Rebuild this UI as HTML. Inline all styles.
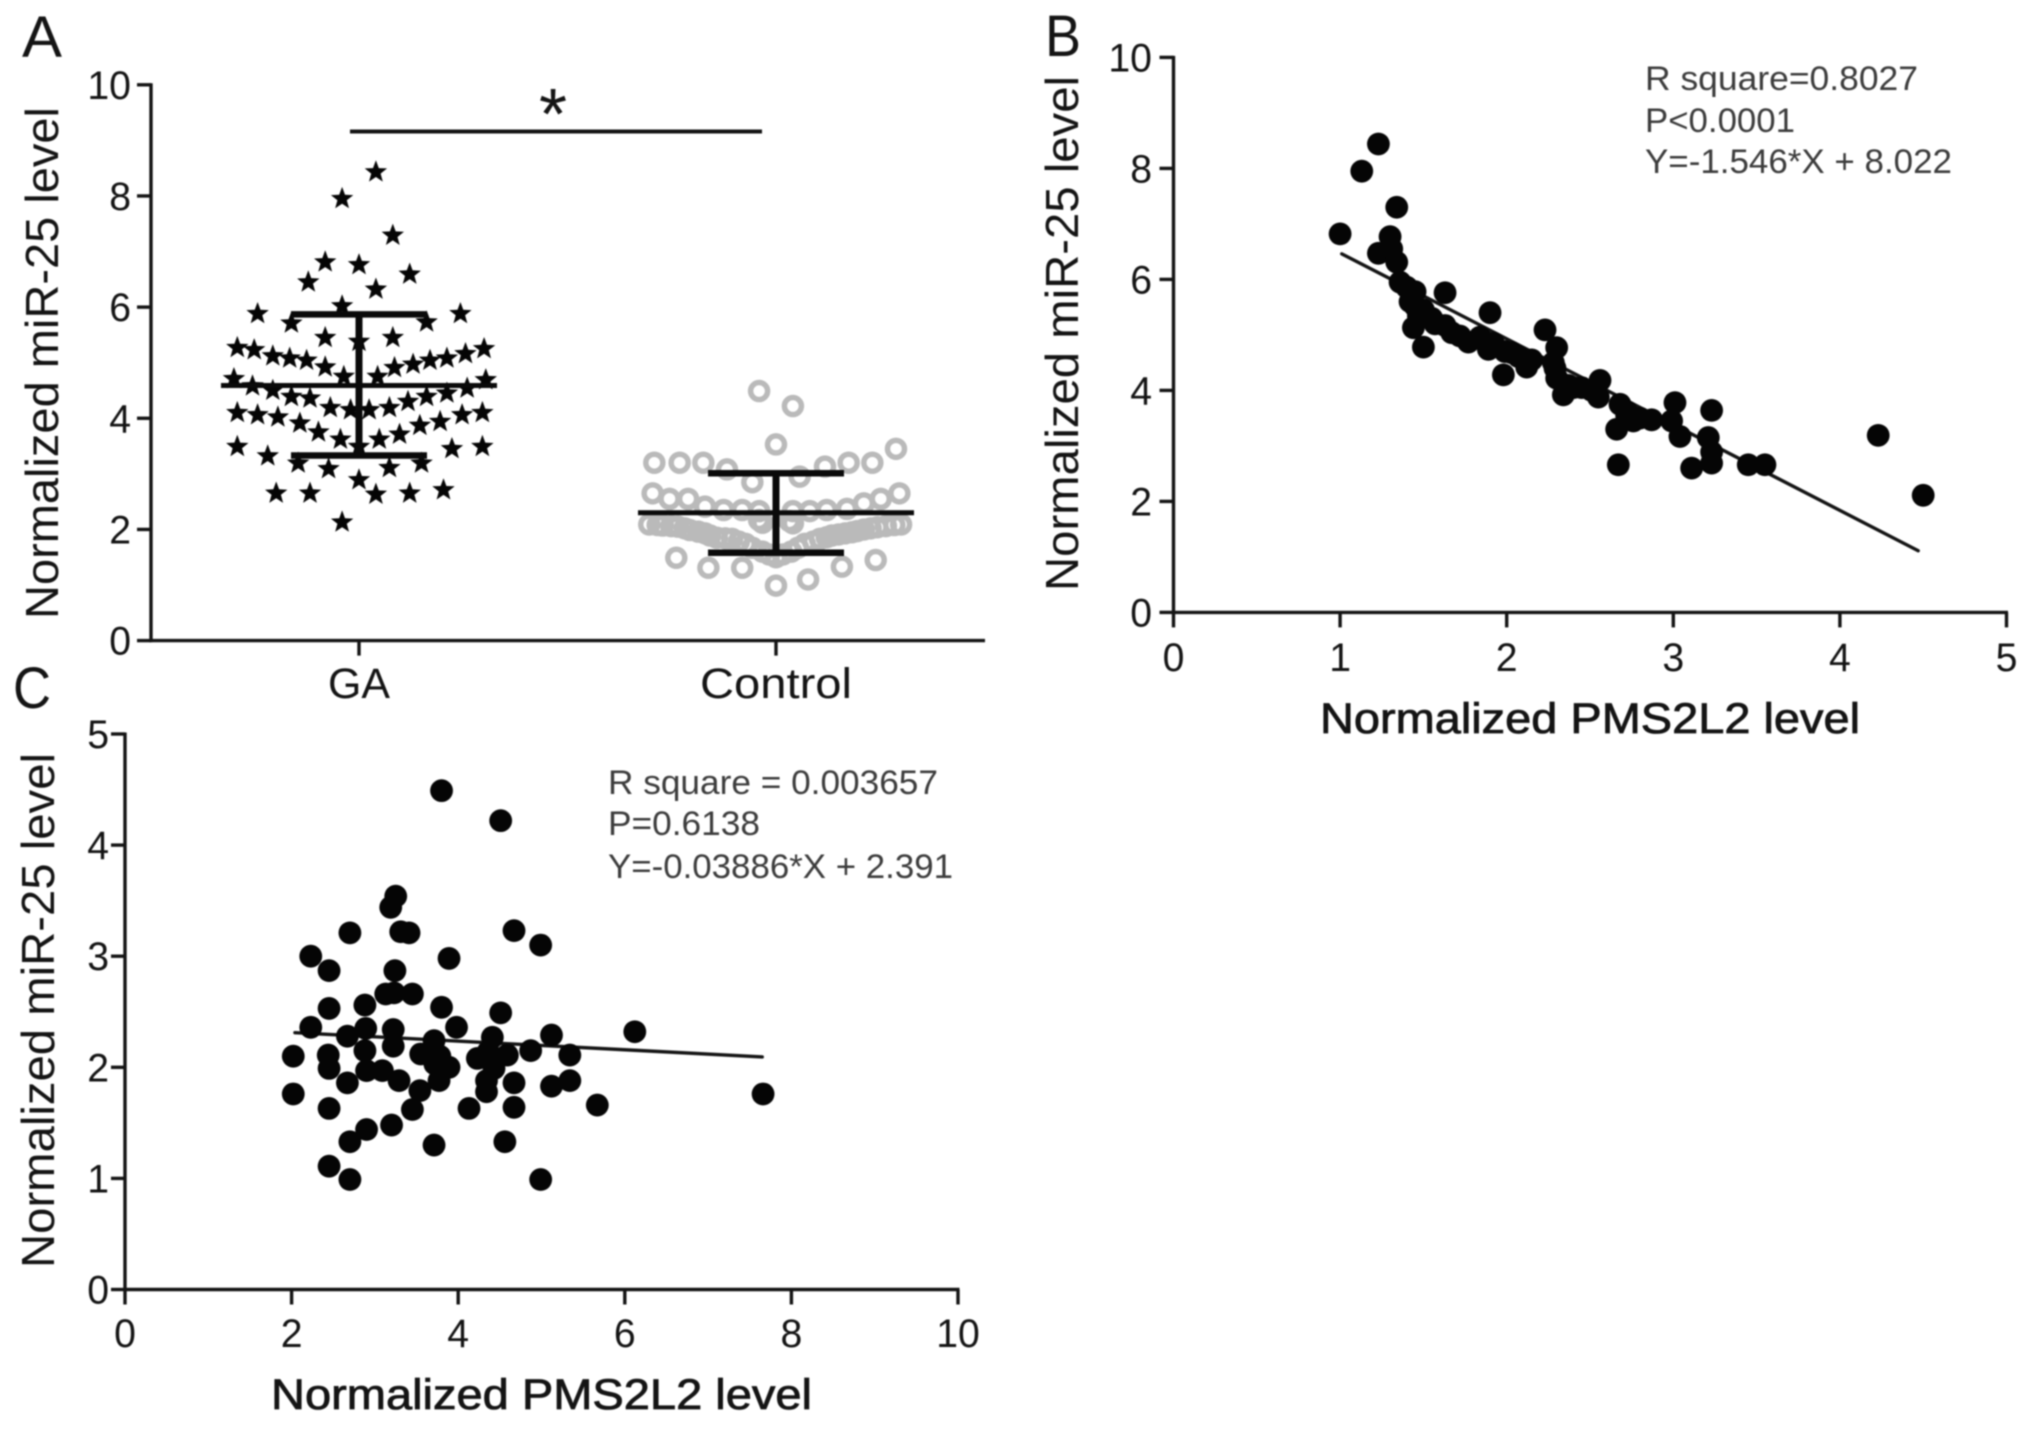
<!DOCTYPE html>
<html lang="en">
<head>
<meta charset="utf-8">
<title>miR-25 and PMS2L2 expression panels</title>
<style>
  html, body { margin: 0; padding: 0; background: #fff; }
  svg { display: block; filter: blur(0.9px); }
  text { font-family: "Liberation Sans", sans-serif; fill: #141414; }
  .tick { font-size: 40px; }
  .title { font-size: 46px; }
  .xtitle { font-size: 43px; stroke: #141414; stroke-width: 0.8px; }
  .letter { font-size: 58px; }
  .stat { font-size: 34px; fill: #3c3c3c; }
</style>
</head>
<body>
<svg id="figure" xmlns="http://www.w3.org/2000/svg" width="2031" height="1429" viewBox="0 0 2031 1429">
  <rect width="2031" height="1429" fill="#fff"/>

  <text class="letter" x="22" y="57" textLength="40" lengthAdjust="spacingAndGlyphs">A</text>
  <text class="letter" x="1045" y="56" textLength="36" lengthAdjust="spacingAndGlyphs">B</text>
  <text class="letter" x="13" y="708" textLength="38" lengthAdjust="spacingAndGlyphs">C</text>

  <g id="panel-a">
    <text class="title" transform="translate(58 619) rotate(-90)" textLength="512" lengthAdjust="spacingAndGlyphs">Normalized miR-25 level</text>
    <text x="553" y="139" text-anchor="middle" font-size="72">*</text>
  </g>
  <g id="panel-b">
    <text class="title" transform="translate(1078 591) rotate(-90)" textLength="515" lengthAdjust="spacingAndGlyphs">Normalized miR-25 level</text>
    <text class="xtitle" x="1320" y="733" textLength="540" lengthAdjust="spacingAndGlyphs">Normalized PMS2L2 level</text>
    <text class="stat" x="1645" y="90" textLength="273" lengthAdjust="spacingAndGlyphs">R square=0.8027</text>
    <text class="stat" x="1645" y="132" textLength="150" lengthAdjust="spacingAndGlyphs">P&lt;0.0001</text>
    <text class="stat" x="1645" y="173" textLength="307" lengthAdjust="spacingAndGlyphs">Y=-1.546*X + 8.022</text>
  </g>
  <g id="panel-c">
    <text class="title" transform="translate(54 1268) rotate(-90)" textLength="515" lengthAdjust="spacingAndGlyphs">Normalized miR-25 level</text>
    <text class="xtitle" x="271" y="1409" textLength="541" lengthAdjust="spacingAndGlyphs">Normalized PMS2L2 level</text>
    <text class="stat" x="608" y="794" textLength="330" lengthAdjust="spacingAndGlyphs">R square = 0.003657</text>
    <text class="stat" x="608" y="835" textLength="152" lengthAdjust="spacingAndGlyphs">P=0.6138</text>
    <text class="stat" x="608" y="878" textLength="345" lengthAdjust="spacingAndGlyphs">Y=-0.03886*X + 2.391</text>
  </g>
</svg>

<script>
// ---- Panel A data ----
const aCategories = ["GA", "Control"];
const aYTicks = [0, 2, 4, 6, 8, 10];
const gaValues = [8.43,7.95,7.29,6.81,6.76,6.59,6.45,6.32,6.02,5.88,5.88,5.71,5.73,5.45,5.38,5.45,
  5.27,5.23,5.12,5.08,5.04,4.92,4.75,4.75,4.91,4.97,5.04,5.08,5.16,5.25,
  4.71,4.58,4.5,4.39,4.36,4.19,4.15,4.15,4.19,4.3,4.39,4.45,4.54,4.69,
  4.1,4.06,4.02,3.91,3.75,3.62,3.49,3.62,3.71,3.87,3.94,4.06,4.1,
  3.49,3.32,3.45,3.49,3.19,3.19,3.09,3.11,2.89,2.65,2.65,2.63,2.65,2.71,2.13];
const gaSlots = [1,-1,2,-2,0,3,-3,1,-1,-6,6,-4,4,-2,0,2,
  -7.2,-6.2,-5.1,-4.1,-3.1,-2,-0.9,1.1,2.1,3.2,4.2,5.2,6.3,7.4,
  -7.4,-6.3,-5.1,-4,-2.9,-1.7,-0.5,0.6,1.8,2.9,4,5.2,6.4,7.5,
  -7.2,-6,-4.8,-3.5,-2.4,-1.1,0,1.2,2.4,3.6,4.8,6.1,7.3,
  -7.2,-5.4,5.5,7.3,-3.6,3.7,-1.8,1.8,0,-4.9,-2.9,1,3,5,-1];
const controlValues = [4.49,4.22,3.53,3.2,3.2,3.2,3.08,2.85,2.95,3.13,3.2,3.2,3.45,
  2.65,2.55,2.55,2.41,2.35,2.35,2.33,2.17,2.11,2.33,2.33,2.35,2.37,2.47,2.55,2.65,
  2.09,2.07,2.05,1.99,1.93,1.85,1.83,1.74,1.6,1.5,1.6,1.74,1.83,1.89,1.93,1.97,2.02,2.06,2.09,
  2.08,2.06,2.02,1.96,1.89,1.84,1.78,1.67,1.55,1.55,1.67,1.78,1.86,1.91,1.95,2.0,2.04,2.08,
  2.12,2.15,
  1.49,1.31,1.31,0.99,1.1,1.33,1.45];
const controlSlots = [-1,1,0,-7.2,-5.7,-4.3,-2.9,-1.4,1.4,2.9,4.3,5.7,7.1,
  -7.3,-6.3,-5.2,-4.2,-3.1,-2,-1,-1,1,1,2,3,4.2,5.2,6.2,7.3,
  -7.5,-6.7,-5.8,-5.1,-4.2,-3.5,-2.6,-1.8,-0.8,0,0.9,1.7,2.6,3.3,4.1,4.8,5.6,6.5,7.4,
  -7,-6.2,-5.4,-4.6,-3.9,-3,-2.2,-1.4,-0.4,0.4,1.3,2.2,3,3.7,4.5,5.2,6,7,
  -0.8,0.8,
  -5.9,-4,-2,0,1.9,3.9,5.9];
const groupMeans = [4.59, 2.3];
const groupUppers = [5.87, 3.01];
const groupLowers = [3.33, 1.58];
const sigBracketValue = 9.16;

// ---- Panel B data ----
const bXTicks = [0, 1, 2, 3, 4, 5];
const bYTicks = [0, 2, 4, 6, 8, 10];
const bX = [1.0,1.13,1.23,1.34,1.3,1.23,1.31,1.34,1.36,1.4,1.45,1.63,1.45,1.47,1.44,1.5,1.55,1.63,1.67,1.77,1.84,1.9,1.89,1.99,1.98,2.07,2.12,2.23,2.3,2.29,2.3,2.34,2.37,2.45,2.51,2.56,2.55,2.68,2.66,2.67,2.72,2.76,2.87,2.99,3.01,3.04,3.11,3.23,3.21,3.23,3.23,3.45,3.55,4.23,4.5,
  1.42,1.5,1.57,1.72,1.92,2.03,2.15,2.4,2.28,2.72,2.8];
const bY = [6.82,7.95,8.44,7.3,6.77,6.47,6.55,6.31,5.95,5.86,5.78,5.76,5.52,5.34,5.13,4.78,5.3,5.17,5.04,4.87,4.96,5.4,4.74,4.7,4.28,4.61,4.42,5.09,4.77,4.4,4.22,3.92,4.09,4.05,4.0,4.18,3.88,3.75,3.3,2.66,3.62,3.45,3.47,3.45,3.78,3.17,2.6,3.64,3.15,2.89,2.69,2.66,2.66,3.19,2.11,
  5.6,5.45,5.2,4.98,4.85,4.68,4.55,4.05,4.5,3.55,3.5];
const bFitSlope = -1.546;
const bFitIntercept = 8.022;
const bFitRange = [1.01, 4.47];

// ---- Panel C data ----
const cXTicks = [0, 2, 4, 6, 8, 10];
const cYTicks = [0, 1, 2, 3, 4, 5];
const cX = [3.8,4.51,3.25,3.19,2.7,3.31,3.41,4.67,4.99,2.23,2.45,3.89,3.24,3.13,3.23,3.45,2.88,2.45,3.8,4.51,2.23,2.89,3.22,3.98,2.67,3.71,4.41,5.12,6.12,3.22,2.88,2.02,2.44,3.55,3.78,4.36,4.59,4.87,5.34,4.23,2.45,2.9,3.09,3.89,3.72,4.43,3.29,2.67,3.77,4.34,4.67,5.12,5.34,2.02,3.54,4.34,7.66,2.45,3.45,4.13,4.67,5.67,2.9,3.2,2.7,3.71,4.56,2.45,2.7,4.99];
const cY = [4.49,4.22,3.54,3.44,3.21,3.22,3.21,3.23,3.1,3.0,2.87,2.98,2.87,2.66,2.67,2.66,2.56,2.53,2.54,2.49,2.36,2.35,2.34,2.36,2.28,2.24,2.27,2.29,2.32,2.19,2.15,2.1,2.11,2.12,2.1,2.14,2.11,2.15,2.11,2.08,1.99,1.97,1.97,2.0,2.03,1.99,1.88,1.86,1.88,1.88,1.86,1.83,1.88,1.76,1.79,1.78,1.76,1.63,1.62,1.63,1.64,1.66,1.44,1.48,1.33,1.3,1.33,1.11,0.99,0.99];
const cFitSlope = -0.03886;
const cFitIntercept = 2.391;
const cFitRange = [2.04, 7.65];

// ---- Axis functions ----
const yA = v => 640.6 - v * 55.58;
const catX = i => 359 + i * 417;
const slotX = (i, s) => catX(i) + s * 16.9;
const xB = v => 1173.5 + v * 166.6;
const yB = v => 612.4 - v * 55.5;
const xC = v => 125 + v * 83.3;
const yC = v => 1289.5 - v * 111.1;

const NS = "http://www.w3.org/2000/svg";
const panelA = document.getElementById("panel-a");
const panelB = document.getElementById("panel-b");
const panelC = document.getElementById("panel-c");

function make(parent, tag, attrs) {
  const el = document.createElementNS(NS, tag);
  for (const k in attrs) el.setAttribute(k, attrs[k]);
  parent.appendChild(el);
  return el;
}
function line(parent, name, x1, y1, x2, y2, w, color) {
  const el = make(parent, "line", { x1, y1, x2, y2, stroke: color || "#141414", "stroke-width": w });
  
  
  return el;
}
function label(parent, name, x, y, str, anchor) {
  const el = make(parent, "text", { x, y, "text-anchor": anchor, class: "tick", textLength: str.length * 21.8, lengthAdjust: "spacingAndGlyphs" });
  el.textContent = str;
  
  
  return el;
}
function starPoints(cx, cy, R) {
  const r = R * 0.42, pts = [];
  for (let k = 0; k < 10; k++) {
    const a = -Math.PI / 2 + k * Math.PI / 5, q = k % 2 ? r : R;
    pts.push((cx + q * Math.cos(a)).toFixed(1) + "," + (cy + q * Math.sin(a)).toFixed(1));
  }
  return pts.join(" ");
}
function drawYAxis(parent, prefix, ticks, yFn, axisX, yMaxValue, labelRight) {
  line(parent, prefix + "-y-axis-line", axisX, yFn(0) + 1.5, axisX, yFn(yMaxValue) - 1.5, 3.4);
  ticks.forEach(t => {
    line(parent, prefix + "-y-tick", axisX - 14, yFn(t), axisX, yFn(t), 3.4);
    label(parent, prefix + "-y-tick-label", labelRight, yFn(t) + 14, String(t), "end");
  });
}
function drawXTicks(parent, prefix, ticks, xFn, axisY, baseline) {
  ticks.forEach(t => {
    line(parent, prefix + "-x-tick", xFn(t), axisY, xFn(t), axisY + 15, 3.4);
    label(parent, prefix + "-x-tick-label", xFn(t), baseline, String(t), "middle");
  });
}
function drawScatter(parent, prefix, xs, ys, xFn, yFn, range, slope, intercept) {
  const fit = line(parent, prefix + "-fit-line", xFn(range[0]), yFn(slope * range[0] + intercept), xFn(range[1]), yFn(slope * range[1] + intercept), 3.4);
  fit.setAttribute("stroke-linecap", "round");
  xs.forEach((v, i) => {
    const dot = make(parent, "circle", { cx: xFn(v), cy: yFn(ys[i]), r: 11.4, fill: "#050505" });
    
    
  });
}

// ---- Panel A ----
drawYAxis(panelA, "panel-a", aYTicks, yA, 151, 10, 131);
line(panelA, "panel-a-x-axis-line", 149.5, yA(0), 985, yA(0), 3.4);
aCategories.forEach((c, i) => {
  line(panelA, "panel-a-x-tick", catX(i), yA(0), catX(i), yA(0) + 15, 3.4);
  const t = label(panelA, "panel-a-category-label", catX(i), 698, c, "middle");
  t.style.fontSize = "43px";
  t.setAttribute("textLength", c.length > 2 ? 152 : 62);
});
gaValues.forEach((v, i) => {
  const star = make(panelA, "polygon", { points: starPoints(slotX(0, gaSlots[i]), yA(v), 11.8), fill: "#050505" });
  
  
});
controlValues.forEach((v, i) => {
  const ring = make(panelA, "circle", { cx: slotX(1, controlSlots[i]), cy: yA(v), r: 8.5, fill: "none", stroke: "#bababa", "stroke-width": 5.5 });
  
  
});
aCategories.forEach((c, i) => {
  const n = c.toLowerCase();
  line(panelA, n + "-mean-line", catX(i) - 138, yA(groupMeans[i]), catX(i) + 138, yA(groupMeans[i]), 5, "#0a0a0a");
  line(panelA, n + "-error-stem", catX(i), yA(groupUppers[i]), catX(i), yA(groupLowers[i]), 7, "#0a0a0a");
  line(panelA, n + "-upper-cap", catX(i) - 68, yA(groupUppers[i]), catX(i) + 68, yA(groupUppers[i]), 6.5, "#0a0a0a");
  line(panelA, n + "-lower-cap", catX(i) - 68, yA(groupLowers[i]), catX(i) + 68, yA(groupLowers[i]), 6.5, "#0a0a0a");
});
line(panelA, "significance-bracket", 350, yA(sigBracketValue), 762, yA(sigBracketValue), 4);

// ---- Panel B ----
drawYAxis(panelB, "panel-b", bYTicks, yB, xB(0), 10, 1152);
line(panelB, "panel-b-x-axis-line", xB(0) - 1.5, yB(0), xB(5) + 1.5, yB(0), 3.4);
drawXTicks(panelB, "panel-b", bXTicks, xB, yB(0), 671);
drawScatter(panelB, "panel-b", bX, bY, xB, yB, bFitRange, bFitSlope, bFitIntercept);

// ---- Panel C ----
drawYAxis(panelC, "panel-c", cYTicks, yC, xC(0), 5, 109);
line(panelC, "panel-c-x-axis-line", xC(0) - 1.5, yC(0), xC(10) + 1.5, yC(0), 3.4);
drawXTicks(panelC, "panel-c", cXTicks, xC, yC(0), 1347);
drawScatter(panelC, "panel-c", cX, cY, xC, yC, cFitRange, cFitSlope, cFitIntercept);
</script>
</body>
</html>
